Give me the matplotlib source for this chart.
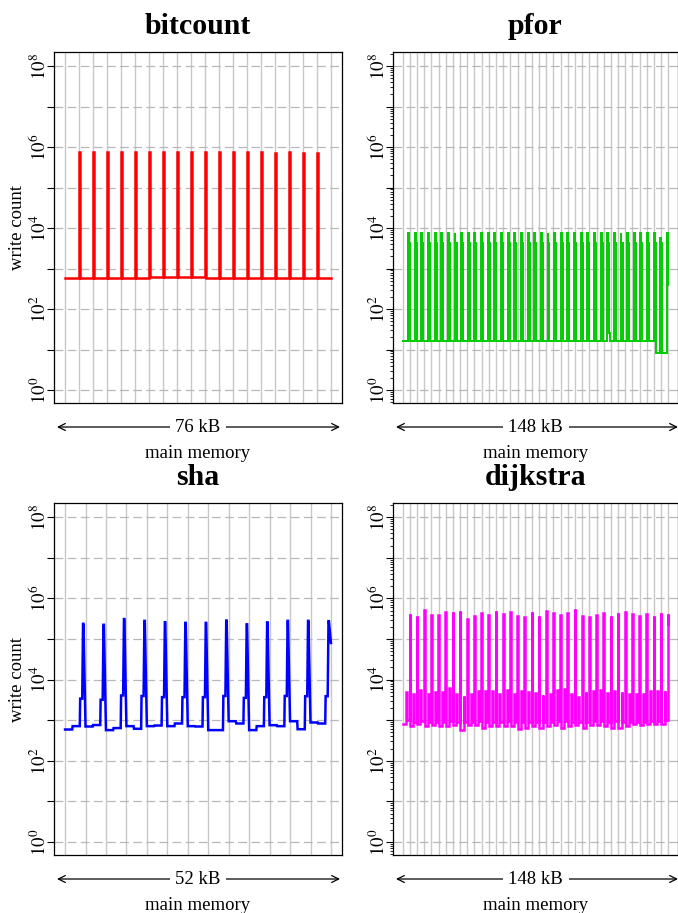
import numpy as np
import matplotlib
matplotlib.use('Agg')
import matplotlib.pyplot as plt
from matplotlib.ticker import FixedLocator, FuncFormatter, LogLocator, NullFormatter

plt.rcParams['font.family'] = ['Liberation Serif', 'DejaVu Serif']
plt.rcParams['mathtext.fontset'] = 'stix'

# ---------------- data ----------------
titles = ["bitcount", "pfor", "sha", "dijkstra"]
sizes_kb = [76, 148, 52, 148]
page_kb = 4
colors = ["#ff0000", "#00cc00", "#0000ff", "#ff00ff"]

# bitcount: baseline per page, spike per page boundary
bit_base = [600, 600, 600, 600, 600, 600, 605, 605, 605, 605, 600, 595, 595, 590, 585, 585, 585, 585, 585]
bit_peak = [7.6e5, 7.5e5, 7.5e5, 7.5e5, 7.5e5, 7.5e5, 7.5e5, 7.5e5, 7.5e5,
            7.5e5, 7.5e5, 7.5e5, 7.5e5, 7.5e5, 7.3e5, 7.4e5, 7.3e5, 7.3e5]

# pfor: spike start positions (kB), spike tops, baseline after each spike
pfor_spike_kb = [3.0, 6.7, 10.4, 14.1, 17.8, 21.5, 25.2, 28.9, 32.6, 36.3,
                 40.0, 43.7, 47.4, 51.1, 54.8, 58.5, 62.2, 65.9, 69.6, 73.3,
                 77.0, 80.7, 84.4, 88.1, 91.8, 95.5, 99.2, 102.9, 106.6, 110.3,
                 114.0, 117.7, 121.4, 125.1, 128.8, 132.5, 136.2, 139.9, 143.6, 147.3]
pfor_top = [7500] * 38 + [5600, 7500]
pfor_shoulder = [4250] * 40
pfor_base_start = 16
pfor_base_after = [16] * 37 + [8, 8, 8]
pfor_bump_after = [0] * 30 + [25] + [0] * 9
pfor_end_value = 400

# sha: per page baseline (first half / second half), step level, peak
sha_base_start = [590, 700, 570, 714, 714, 714, 714, 570, 945, 570, 755, 945, 880]
sha_base_end = [714, 760, 640, 615, 740, 830, 700, 570, 830, 714, 714, 600, 830]
sha_step = [3400, 3200, 4070, 3950, 3700, 3700, 3700, 3950, 3550, 3700, 3950, 3900, 3900]
sha_peak = [2.37e5, 2.24e5, 3.1e5, 2.8e5, 2.6e5, 2.5e5, 2.5e5, 2.85e5, 2.3e5, 2.57e5, 2.8e5, 2.8e5, 2.75e5]
sha_end_value = 8e4

# dijkstra: per page low baseline, mid baseline, medium spike, tall spike
dij_base = [820, 730, 820, 730, 760, 730, 730, 775, 590, 760, 750, 655, 730, 720, 730, 730, 610, 655, 730,
            655, 730, 775, 655, 730, 760, 630, 760, 750, 730, 630, 655, 730, 820, 760, 820, 820, 820]
dij_mid = [990, 900, 950, 900, 920, 900, 950, 900, 880, 920, 950, 900, 920, 880, 950, 900, 920, 900, 900,
           880, 900, 950, 950, 900, 880, 920, 950, 950, 900, 950, 920, 900, 900, 880, 950, 950, 990]
dij_medium = [4900, 4460, 5690, 4460, 4990, 4990, 6250, 4460, 3980, 4460, 5380, 5380, 5380, 4300, 5590,
              4300, 5180, 4900, 4630, 4130, 4300, 5590, 6020, 4460, 3690, 5080, 5380, 5690, 4810, 5380,
              4990, 4460, 4460, 4300, 5380, 5380, 5380]
dij_tall = [4.21e5, 3.69e5, 5.08e5, 3.91e5, 3.91e5, 4.71e5, 4.54e5, 4.90e5, 3.18e5, 3.62e5, 4.37e5,
            3.84e5, 4.90e5, 4.21e5, 4.71e5, 3.77e5, 3.56e5, 4.71e5, 3.69e5, 4.90e5, 4.29e5, 3.84e5,
            4.37e5, 5.38e5, 3.77e5, 3.49e5, 3.91e5, 4.46e5, 3.62e5, 4.37e5, 4.71e5, 4.21e5, 3.62e5,
            4.21e5, 3.77e5, 4.29e5, 4.21e5]
dij_end_value = 2.3e5


# ---------------- path builders ----------------
def path_bitcount():
    xs, ys = [0], [bit_base[0]]
    for i, pk in enumerate(bit_peak):
        b = (i + 1) * page_kb
        xs += [b, b, b + 0.2, b + 0.2]
        ys += [bit_base[i], pk, pk, bit_base[i + 1]]
    xs.append(sizes_kb[0]); ys.append(bit_base[-1])
    return xs, ys


def path_pfor():
    xs, ys = [0], [pfor_base_start]
    prev = pfor_base_start
    for s, t, sh, ba, bu in zip(pfor_spike_kb, pfor_top, pfor_shoulder, pfor_base_after, pfor_bump_after):
        xs += [s, s, s + 0.5, s + 0.5]
        ys += [prev, t, t, sh]
        end = s + 1.1
        if end >= sizes_kb[1]:
            xs += [sizes_kb[1], sizes_kb[1]]
            ys += [sh, pfor_end_value]
            return xs, ys
        xs += [end]
        ys += [sh]
        if bu:
            xs += [end, end + 0.6, end + 0.6]
            ys += [bu, bu, ba]
        else:
            xs += [end]
            ys += [ba]
        prev = ba
    return xs, ys


def path_sha():
    xs, ys = [], []
    n = len(sha_peak)
    for p in range(n):
        x0 = p * page_kb
        xs += [x0, x0 + 0.35 * page_kb, x0 + 0.37 * page_kb, x0 + 0.72 * page_kb, x0 + 0.74 * page_kb,
               x0 + 0.84 * page_kb, x0 + 0.88 * page_kb, x0 + 0.9 * page_kb]
        ys += [sha_base_start[p], sha_base_start[p], sha_base_end[p], sha_base_end[p],
               sha_step[p], sha_step[p], sha_peak[p], sha_peak[p]]
    xs.append(n * page_kb); ys.append(sha_end_value)
    return xs, ys


def path_dij():
    xs, ys = [], []
    n = len(dij_tall)
    for p in range(n):
        x0 = p * page_kb
        xs += [x0 + 0.06 * page_kb, x0 + 0.48 * page_kb, x0 + 0.48 * page_kb, x0 + 0.6 * page_kb,
               x0 + 0.6 * page_kb, x0 + 0.95 * page_kb, x0 + 0.95 * page_kb]
        ys += [dij_base[p], dij_base[p], dij_medium[p], dij_medium[p], dij_mid[p], dij_mid[p], dij_tall[p]]
        if p < n - 1:
            xs += [x0 + 1.05 * page_kb, x0 + 1.05 * page_kb]
            ys += [dij_tall[p], dij_base[p + 1]]
    xs += [n * page_kb, n * page_kb]
    ys += [dij_tall[-1], dij_end_value]
    return xs, ys


paths = [path_bitcount(), path_pfor(), path_sha(), path_dij()]

# ---------------- figure ----------------
fig = plt.figure(figsize=(6.78, 9.13), dpi=100)
W, H = 678, 913
boxes = [(54, 342, 52, 403), (393, 678, 52, 403), (54, 342, 503, 855), (393, 678, 503, 855)]
lws = [1.8, 1.4, 1.8, 1.8]
ymin, ymax = 10 ** -0.32, 10 ** 8.35

for i, (title, size, col, (l, r, t, b), (xs, ys)) in enumerate(zip(titles, sizes_kb, colors, boxes, paths)):
    ax = fig.add_axes([l / W, 1 - b / H, (r - l) / W, (b - t) / H])
    ax.set_yscale('log')
    ax.set_ylim(ymin, ymax)
    if size == 148:
        ax.set_xlim(-1.35 * page_kb, size + 1.35 * page_kb)
    elif size == 76:
        ax.set_xlim(-0.8 * page_kb, size + 0.8 * page_kb)
    else:
        ax.set_xlim(-0.54 * page_kb, size + 0.54 * page_kb)

    ax.set_axisbelow(True)
    ax.xaxis.set_major_locator(FixedLocator(np.arange(0, size + 1, page_kb)))
    ax.tick_params(axis='x', which='both', length=0, labelbottom=False)
    ax.grid(axis='x', color='#c8c8c8', lw=1.0, linestyle='-')

    ax.yaxis.set_major_locator(FixedLocator([10.0 ** k for k in range(0, 9)]))
    ax.yaxis.set_major_formatter(FuncFormatter(
        lambda v, pos: (r'$10^{%d}$' % round(np.log10(v))) if round(np.log10(v)) % 2 == 0 else ''))
    if size == 148:
        ax.yaxis.set_minor_locator(LogLocator(base=10, subs=np.arange(2, 10)))
        ax.tick_params(axis='y', which='minor', length=2.5, width=0.6, direction='out')
    else:
        ax.yaxis.set_minor_locator(FixedLocator([]))
    ax.yaxis.set_minor_formatter(NullFormatter())
    ax.tick_params(axis='y', which='major', length=5, width=0.8, direction='out', labelsize=13.5, pad=-2)
    for lab in ax.get_yticklabels():
        lab.set_rotation(90)
        lab.set_va('center')
    ax.grid(axis='y', which='major', color='#b8b8b8', lw=0.9, linestyle=(0, (7, 3.5)))

    for sp in ax.spines.values():
        sp.set_linewidth(0.9)

    ax.plot(xs, ys, color=col, lw=lws[i], solid_joinstyle='miter', clip_on=True)

    ax.set_title(title, fontsize=21.5, fontweight='bold', pad=13)
    h = (b - t)
    w = (r - l)
    if i % 2 == 0:
        ax.set_ylabel('write count', fontsize=13.5)
        ax.yaxis.set_label_coords(-28 / w, 0.5)

    ay = -24 / h
    x0f = 3 / w
    x1f = 1 - 2 / w if size != 148 else 1.0
    ax.annotate('', xy=(x0f, ay), xytext=(x1f, ay), xycoords='axes fraction', textcoords='axes fraction',
                arrowprops=dict(arrowstyle='<->,head_length=0.5,head_width=0.25', lw=0.9, color='black',
                                shrinkA=0, shrinkB=0), annotation_clip=False)
    ax.text(0.5, ay, '%d kB' % size, transform=ax.transAxes, ha='center', va='center', fontsize=13.5,
            bbox=dict(facecolor='white', edgecolor='none', pad=4))
    ax.text(0.5, -50 / h, 'main memory', transform=ax.transAxes, ha='center', va='center', fontsize=13.5)

fig.savefig('out.png', dpi=100)
